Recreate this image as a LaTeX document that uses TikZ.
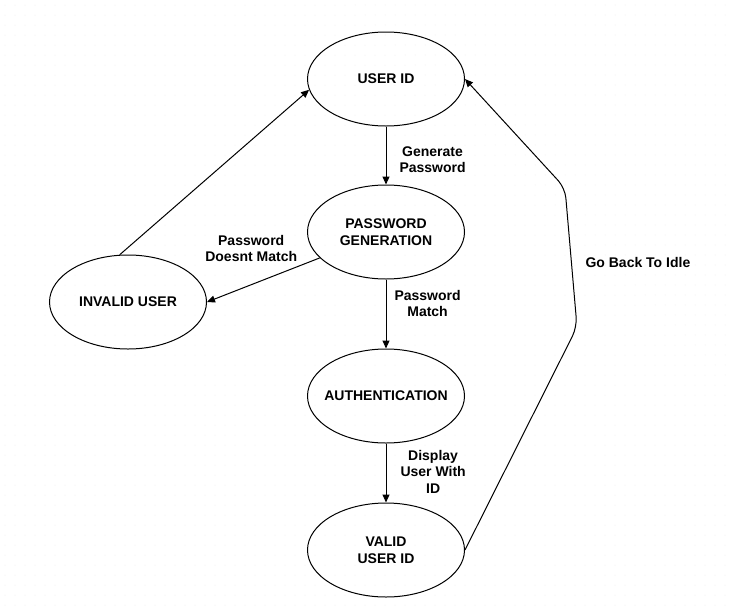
\documentclass[tikz,border=0pt]{standalone}
\usepackage{fontspec}
\setmainfont{Liberation Sans}
\usetikzlibrary{shapes.geometric,arrows.meta}

\begin{document}
\begin{tikzpicture}[x=1pt, y=-1pt, auto,
    state/.style ={ellipse, draw, line width=1pt, inner xsep=-10pt, inner ysep=0pt, minimum width=157pt, minimum height=94pt, align=center, font=\bfseries\fontsize{14}{16.5}\selectfont},
    edgetext/.style ={align=center, font=\bfseries\fontsize{14}{16.5}\selectfont},
    >={Triangle[length=8pt,width=7pt]}]
   \useasboundingbox (0,0) rectangle (731,606);
   % faint dot grid of the background
   \foreach \x in {5,15,...,725}
     \foreach \y in {5,15,...,605}
       \fill[black!10] (\x,\y) circle (0.5pt);
   \node[state] (U)  at (386,79)  {USER ID};
   \node[state] (P)  at (386,232)  {PASSWORD\\GENERATION};
   \node[state] (I)  at (128,302)  {INVALID USER};
   \node[state] (A)  at (386,396)  {AUTHENTICATION};
   \node[state] (V)  at (386,550)  {VALID\\USER ID};
   \coordinate (b1) at (577,327);
   \coordinate (b2) at (565,188);
   \draw[line width=1pt, ->] (U) to node[edgetext, pos=0.57, inner sep=13pt] (g) {Generate\\Password} (P);
   \draw[line width=1pt, ->] (P) to node[edgetext, swap, pos=0.17, inner sep=3pt] (d) {Password\\Doesnt Match} (I.east);
   \draw[line width=1pt, ->] (P) to node[edgetext, pos=0.35, inner sep=8pt] (m) {Password\\Match} (A);
   \draw[line width=1pt, ->] (A) to node[edgetext, pos=0.48, inner sep=14pt] (s) {Display\\User With\\ID} (V);
   \draw[line width=1pt, ->] (I.100) to (U.188);
   \draw[line width=1pt, ->, rounded corners=10pt] (V.east) -- (b1) -- (b2) -- (U.east);
   \node[edgetext, anchor=west] (k) at (582,262) {Go Back To Idle};
\end{tikzpicture}
\end{document}
